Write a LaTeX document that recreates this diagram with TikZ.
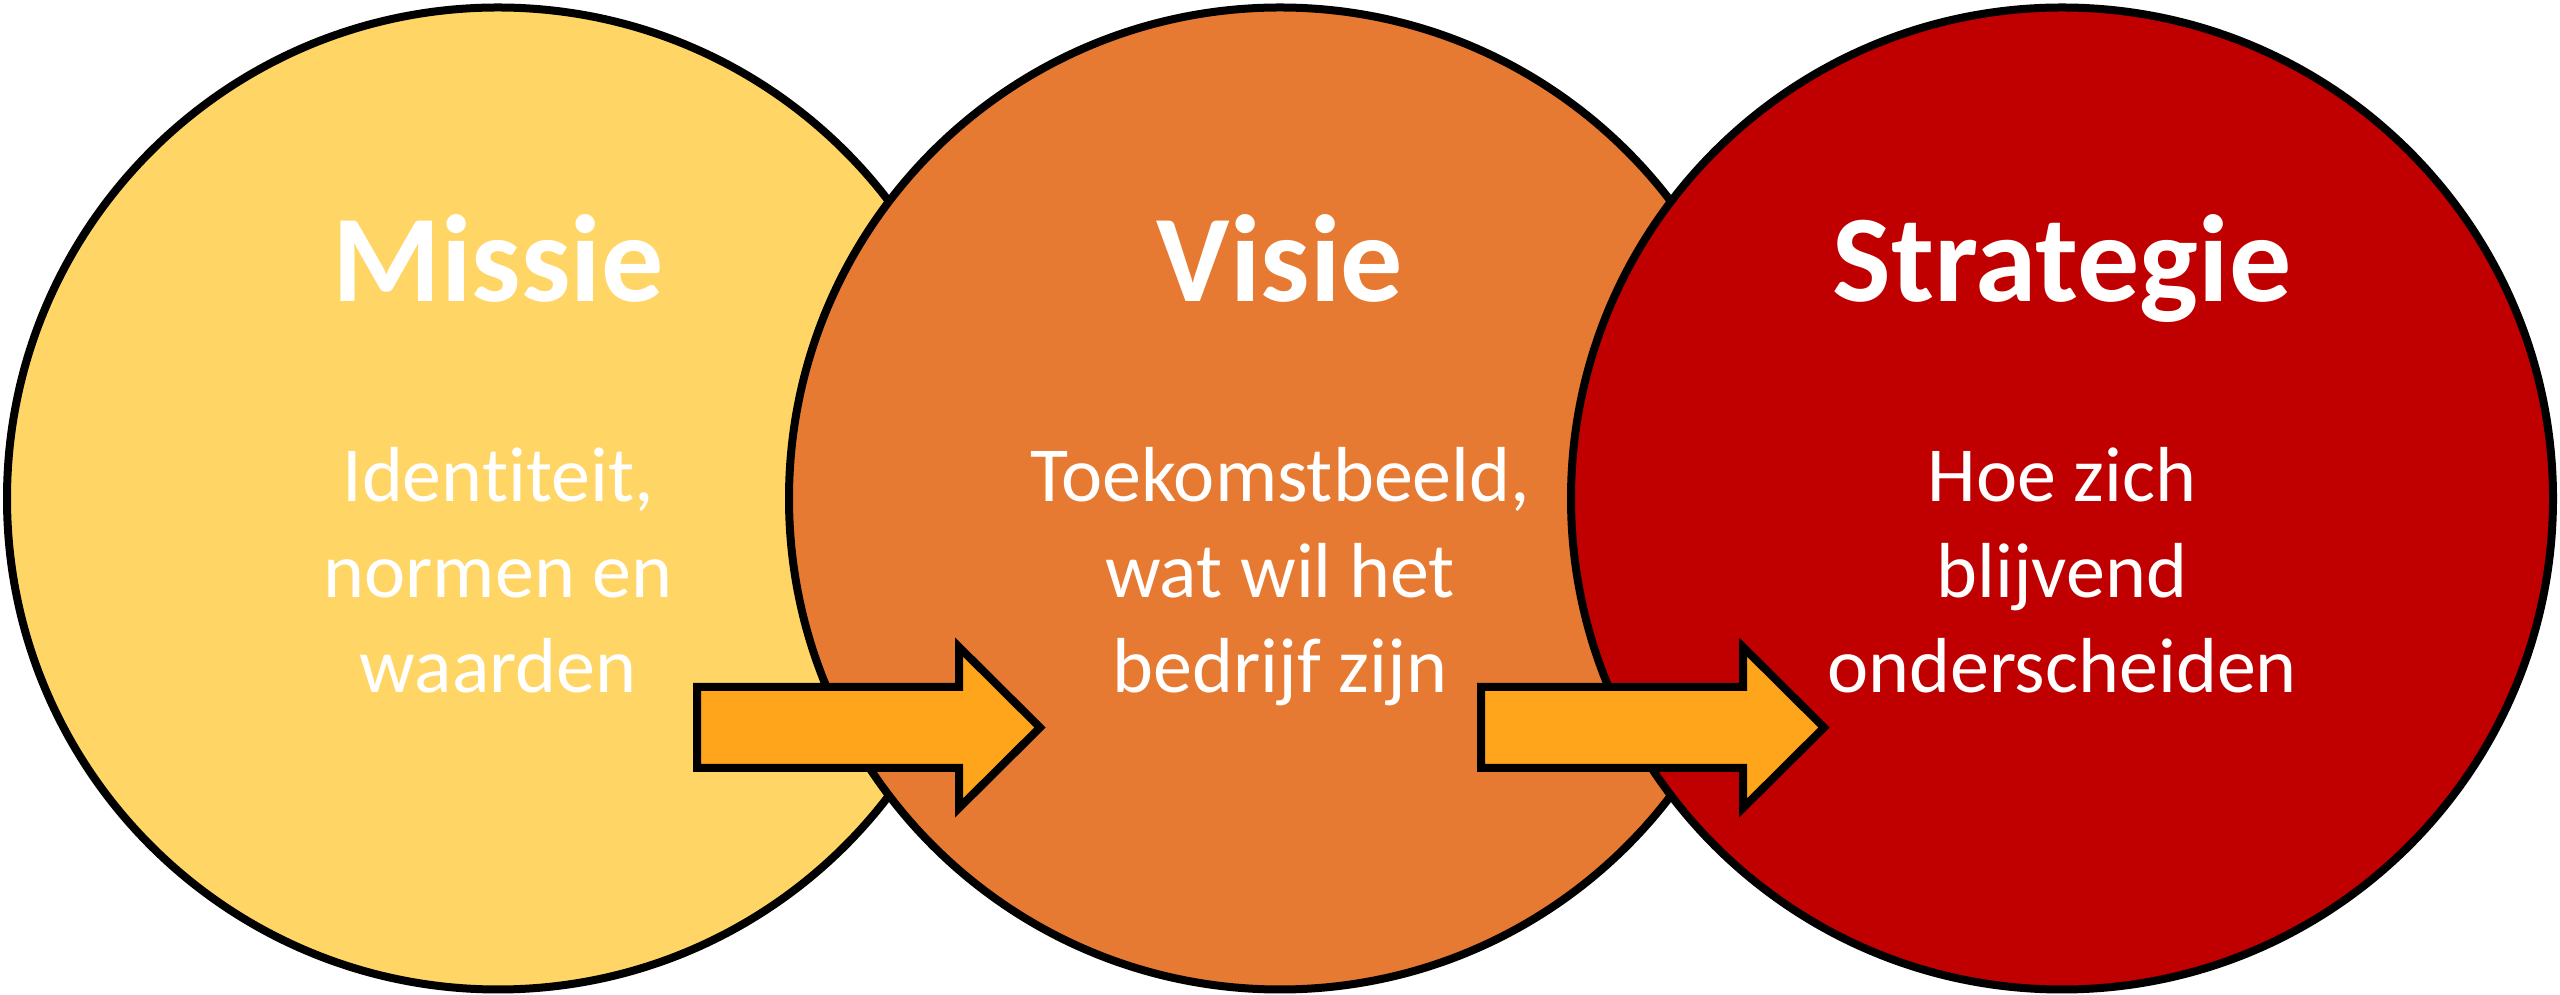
\documentclass[tikz,border=0pt]{standalone}
\usepackage{fontspec}
\setmainfont{Carlito}[Ligatures={NoCommon}]
\definecolor{missiecol}{HTML}{FFD666}
\definecolor{visiecol}{HTML}{E77A32}
\definecolor{stratcol}{HTML}{C00000}
\definecolor{arrowcol}{HTML}{FFA51C}
\tikzset{
  bigcircle/.style={circle, draw=black, line width=8pt, minimum size=982pt, inner sep=0pt},
  titletext/.style={anchor=base, text=white, font=\fontsize{124}{150}\selectfont\bfseries, inner sep=0pt},
  bodytext/.style={anchor=base, text=white, font=\fontsize{78}{95}\selectfont, inner sep=0pt},
  blockarrow/.style={draw=black, fill=arrowcol, line width=8pt, line join=miter, miter limit=20}
}
\begin{document}
\begin{tikzpicture}[x=1pt,y=1pt]
\useasboundingbox (0,0) rectangle (2560,995);
% circles
\node[bigcircle, fill=missiecol] (m) at (498,496.5) {};
\node[bigcircle, fill=visiecol]  (v) at (1280,496.5) {};
\node[bigcircle, fill=stratcol]  (s) at (2062,496.5) {};
% titles
\node[titletext] (mt) at ([yshift=196.5pt]m.center) {Missie};
\node[titletext] (vt) at ([yshift=196.5pt]v.center) {Visie};
\node[titletext] (st) at ([yshift=196.5pt]s.center) {Strategie};
% body texts
\node[bodytext] (m1) at ([yshift=-3.3pt]m.center) {Identiteit,};
\node[bodytext] (m2) at ([yshift=-99.3pt]m.center) {normen en};
\node[bodytext] (m3) at ([yshift=-194.3pt]m.center) {waarden};
\node[bodytext] (v1) at ([yshift=-3.3pt]v.center) {Toekomstbeeld,};
\node[bodytext] (v2) at ([yshift=-99.3pt]v.center) {wat wil het};
\node[bodytext] (v3) at ([yshift=-194.3pt]v.center) {bedrijf zijn};
\node[bodytext] (s1) at ([yshift=-3.3pt]s.center) {Hoe zich};
\node[bodytext] (s2) at ([yshift=-99.3pt]s.center) {blijvend};
\node[bodytext] (s3) at ([yshift=-194.3pt]s.center) {onderscheiden};
% arrows
\foreach \dx in {0,784}{
  \draw[blockarrow, xshift=\dx pt]
    (697,227) -- (959,227) -- (959,187) -- (1040,267.5)
    -- (959,348) -- (959,308) -- (697,308) -- cycle;
}
\end{tikzpicture}
\end{document}
